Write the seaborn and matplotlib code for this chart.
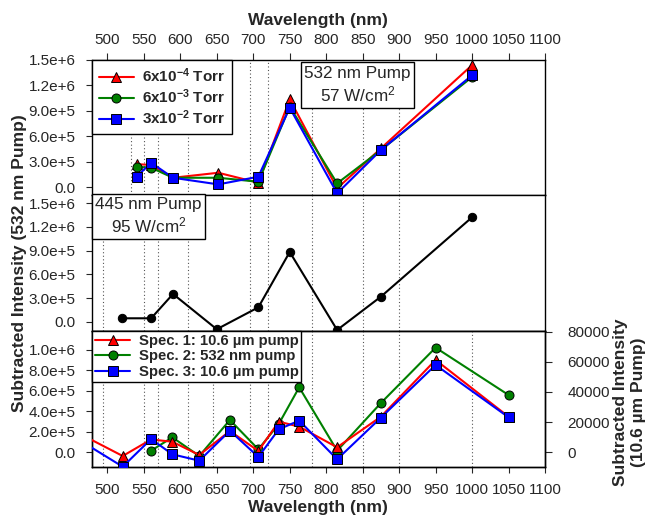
import numpy as np
import pandas as pd
import matplotlib
matplotlib.use("Agg")
import matplotlib.pyplot as plt
import matplotlib.ticker as mticker
import seaborn as sns

# ---------------- data ----------------
# top panel: 532 nm pump, three pressures
top_wl = [540, 560, 590, 652, 707, 750, 815, 875, 1000]
top_6e4 = [2.74e5, 2.63e5, 1.13e5, 1.72e5, 5.4e4, 1.037e6, -1.2e4, 4.59e5, 1.44e6]
top_6e3 = [2.43e5, 2.31e5, 1.13e5, 1.13e5, 6.6e4, 9.5e5, 4.7e4, 4.39e5, 1.30e6]
top_3e2 = [1.25e5, 2.90e5, 1.13e5, 3.5e4, 1.25e5, 9.38e5, -7.0e4, 4.39e5, 1.32e6]

# middle panel: 445 nm pump
mid_wl = [520, 560, 590, 650, 707, 750, 815, 875, 1000]
mid_val = [4.3e4, 4.3e4, 3.51e5, -9.6e4, 1.82e5, 8.83e5, -1.05e5, 3.17e5, 1.323e6]

# bottom panel
spec1_wl = [460, 521, 560, 589, 626, 668, 707, 735, 763, 815, 875, 950, 1050]
spec1_val = [12800, -2450, 8500, 7000, -1800, 14100, 900, 20300, 17000, 3300, 23600, 61200, 23600]
spec2_wl = [560, 589, 626, 668, 707, 735, 763, 815, 875, 950, 1050]
spec2_val = [1.27e4, 1.44e5, -3.9e4, 3.14e5, 2.6e4, 2.75e5, 6.34e5, 1.27e4, 4.8e5, 1.023e6, 5.59e5]
spec3_wl = [460, 521, 560, 589, 626, 668, 707, 735, 763, 815, 875, 950, 1050]
spec3_val = [8560, -9550, 8800, -1330, -5570, 14300, -3100, 15250, 21000, -4640, 22950, 57900, 23200]

# dotted reference lines (nm)
top_vlines = [532, 550, 570, 610, 695, 720, 780, 850, 900]
mid_vlines = [494, 550, 570, 610, 695, 720, 780, 850, 900]
bot_vlines = [494, 550, 570, 610, 645, 695, 720, 780, 850, 900, 1000]

top_labels = ["6x10$^{\\mathbf{-4}}$ Torr", "6x10$^{\\mathbf{-3}}$ Torr", "3x10$^{\\mathbf{-2}}$ Torr"]
bot_labels = ["Spec. 1: 10.6 \u00b5m pump", "Spec. 2: 532 nm pump", "Spec. 3: 10.6 \u00b5m pump"]
xticks = list(range(500, 1101, 50))

# ---------------- style ----------------
sns.set_style("ticks")
plt.rcParams["font.family"] = ["Liberation Sans", "DejaVu Sans"]
plt.rcParams["mathtext.fontset"] = "custom"
plt.rcParams["mathtext.rm"] = "Liberation Sans"
plt.rcParams["mathtext.bf"] = "Liberation Sans:bold"
plt.rcParams["mathtext.it"] = "Liberation Sans:italic"
plt.rcParams["axes.edgecolor"] = "black"
plt.rcParams["axes.linewidth"] = 1.0

RED, GREEN, BLUE = "#ff0000", "#008000", "#0000ff"
LW = 1.5
FS_TICK = 11
FS_LAB = 12.5

fig = plt.figure(figsize=(6.51, 5.17), dpi=100)
L, W = 91.7 / 651, (545 - 91.7) / 651
H = 136 / 517
ax1 = fig.add_axes([L, 1 - 195 / 517, W, 135 / 517])
ax2 = fig.add_axes([L, 1 - 331 / 517, W, H])
ax3 = fig.add_axes([L, 1 - 467 / 517, W, H])
ax3r = ax3.twinx()

XLIM = (478.5, 1100)


def sci(v, pos):
    if abs(v) < 1e-9:
        return "0.0"
    e = int(np.floor(np.log10(abs(v)) + 1e-9))
    return f"{v / 10 ** e:.1f}e+{e}"


def vlines(ax, xs):
    for x in xs:
        ax.axvline(x, color="#555555", lw=0.8, ls=(0, (1, 2.2)), zorder=0.5)


def series(ax, x, y, color, marker, ms, label=None):
    sns.lineplot(x=x, y=y, ax=ax, color=color, marker=marker, markersize=ms,
                 markeredgecolor="black", markeredgewidth=0.7, linewidth=LW,
                 label=label, sort=False, zorder=3)


# ---- top panel ----
vlines(ax1, top_vlines)
series(ax1, top_wl, top_6e4, RED, "^", 7.5, top_labels[0])
series(ax1, top_wl, top_6e3, GREEN, "o", 6.5, top_labels[1])
series(ax1, top_wl, top_3e2, BLUE, "s", 6.5, top_labels[2])
ax1.set_xlim(*XLIM)
ax1.set_ylim(-0.9e5, 1.5e6)
ax1.set_yticks(np.arange(0, 1.5e6 + 1, 3e5))
ax1.yaxis.set_major_formatter(mticker.FuncFormatter(sci))
ax1.xaxis.tick_top()
ax1.xaxis.set_label_position("top")
ax1.set_xticks(xticks)
ax1.set_xlabel("Wavelength (nm)", fontsize=FS_LAB, fontweight="bold", labelpad=6)
ax1.set_ylabel("")
ax1.tick_params(axis="x", which="both", top=True, bottom=False, direction="out",
                length=5, width=0.8, labelsize=FS_TICK, pad=4)
ax1.tick_params(axis="y", direction="out", length=4.5, width=0.8, labelsize=FS_TICK, pad=7)
leg1 = ax1.legend(loc="upper left", bbox_to_anchor=(0, 1), borderaxespad=0,
                  fancybox=False, framealpha=1, edgecolor="black",
                  prop={"weight": "bold", "size": 11}, handlelength=2.3,
                  handletextpad=0.55, labelspacing=0.15, borderpad=0.45)
leg1.get_frame().set_linewidth(1.0)
ax1.text(0.586, 0.815, "532 nm Pump\n57 W/cm$^{\\mathrm{2}}$", transform=ax1.transAxes,
         ha="center", va="center", multialignment="center", fontsize=12.3,
         bbox=dict(boxstyle="square,pad=0.2", fc="white", ec="black", lw=1.0), zorder=5)

# ---- middle panel ----
vlines(ax2, mid_vlines)
sns.lineplot(x=mid_wl, y=mid_val, ax=ax2, color="black", marker="o", markersize=6,
             markeredgecolor="black", linewidth=LW, sort=False, zorder=3)
ax2.set_xlim(*XLIM)
ax2.set_ylim(-1.18e5, 1.605e6)
ax2.set_yticks(np.arange(0, 1.5e6 + 1, 3e5))
ax2.yaxis.set_major_formatter(mticker.FuncFormatter(sci))
ax2.set_xticks([])
ax2.set_ylabel("")
ax2.tick_params(axis="y", direction="out", length=4.5, width=0.8, labelsize=FS_TICK, pad=7)
ax2.text(0.1255, 0.842, "445 nm Pump\n95 W/cm$^{\\mathrm{2}}$", transform=ax2.transAxes,
         ha="center", va="center", multialignment="center", fontsize=12.3,
         bbox=dict(boxstyle="square,pad=0.2", fc="white", ec="black", lw=1.0), zorder=5)

# ---- bottom panel ----
vlines(ax3, bot_vlines)
series(ax3, spec2_wl, spec2_val, GREEN, "o", 6.5)
series(ax3r, spec1_wl, spec1_val, RED, "^", 7.5)
series(ax3r, spec3_wl, spec3_val, BLUE, "s", 6.5)
ax3.set_xlim(*XLIM)
ax3r.set_xlim(*XLIM)
ax3.set_ylim(-1.47e5, 1.186e6)
ax3.set_yticks(np.arange(0, 1.0e6 + 1, 2e5))
ax3.yaxis.set_major_formatter(mticker.FuncFormatter(sci))
ax3r.set_ylim(-9750, 80400)
ax3r.set_yticks(np.arange(0, 80001, 20000))
ax3.set_xticks(xticks)
ax3.set_xlabel("Wavelength (nm)", fontsize=FS_LAB, fontweight="bold", labelpad=2)
ax3.set_ylabel("")
ax3r.set_ylabel("")
ax3.tick_params(axis="x", direction="out", length=4.5, width=0.8, labelsize=FS_TICK, pad=7)
ax3.tick_params(axis="y", direction="out", length=4.5, width=0.8, labelsize=FS_TICK, pad=7)
ax3r.tick_params(axis="y", direction="out", length=5, width=0.8, labelsize=FS_TICK, pad=11)
for a in (ax3, ax3r):
    lg = a.get_legend()
    if lg is not None:
        lg.remove()
g_line = ax3.get_lines()[-1]
r_line, b_line = [l for l in ax3r.get_lines() if l.get_marker() in ("^", "s")]
leg3 = ax3r.legend([r_line, g_line, b_line], bot_labels, loc="upper left",
                   bbox_to_anchor=(0, 1), borderaxespad=0, fancybox=False,
                   framealpha=1, edgecolor="black", prop={"weight": "bold", "size": 10.7},
                   handlelength=2.4, handletextpad=0.55, labelspacing=0.1, borderpad=0.2)
leg3.get_frame().set_linewidth(1.0)

# axis labels spanning panels
fig.text(20 / 651, 1 - 263.5 / 517, "Subtracted Intensity (532 nm Pump)", rotation=90,
         ha="center", va="center", fontsize=FS_LAB, fontweight="bold")
fig.text(629.5 / 651, 1 - 402 / 517, "Subtracted Intensity\n(10.6 \u00b5m Pump)", rotation=90,
         ha="center", va="center", multialignment="center", fontsize=FS_LAB,
         fontweight="bold", linespacing=1.25)

fig.savefig("out.png", dpi=100)
